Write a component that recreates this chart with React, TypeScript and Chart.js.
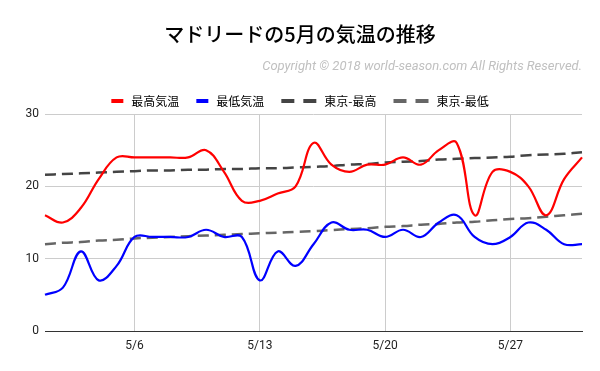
import React, { useEffect, useRef } from "react";
import { Chart, registerables } from "chart.js";

Chart.register(...registerables);

const days = [
  "5/1","5/2","5/3","5/4","5/5","5/6","5/7","5/8","5/9","5/10",
  "5/11","5/12","5/13","5/14","5/15","5/16","5/17","5/18","5/19","5/20",
  "5/21","5/22","5/23","5/24","5/25","5/26","5/27","5/28","5/29","5/30","5/31",
];
const shownTicks = ["5/6", "5/13", "5/20", "5/27"];

const madridMax = [16, 15, 17, 21, 24, 24, 24, 24, 24, 25, 22, 18, 18, 19, 20, 26, 23, 22, 23, 23, 24, 23, 25, 26, 16, 22, 22, 20, 16, 21, 24];
const madridMin = [5, 6, 11, 7, 9, 13, 13, 13, 13, 14, 13, 13, 7, 11, 9, 12, 15, 14, 14, 13, 14, 13, 15, 16, 13, 12, 13, 15, 14, 12, 12];
const tokyoMax = [21.6, 21.7, 21.8, 21.9, 22.0, 22.1, 22.2, 22.2, 22.3, 22.3, 22.4, 22.4, 22.5, 22.5, 22.6, 22.7, 22.8, 23.0, 23.1, 23.3, 23.4, 23.5, 23.7, 23.8, 23.9, 24.0, 24.1, 24.3, 24.4, 24.5, 24.7];
const tokyoMin = [12.0, 12.2, 12.3, 12.5, 12.6, 12.8, 12.9, 13.0, 13.1, 13.2, 13.3, 13.4, 13.5, 13.6, 13.7, 13.8, 13.95, 14.1, 14.2, 14.4, 14.5, 14.7, 14.8, 15.0, 15.1, 15.3, 15.5, 15.6, 15.8, 16.0, 16.2];

const seriesNames = ["最高気温", "最低気温", "東京-最高", "東京-最低"];
const seriesColors = ["#ff0000", "#0000ff", "#444444", "#666666"];

const titleText = "マドリードの5月の気温の推移";
const copyrightText = "Copyright © 2018 world-season.com All Rights Reserved.";

const CJK = "'Noto Sans CJK JP', sans-serif";

const headerPlugin = {
  id: "header",
  afterDraw(chart: any) {
    const ctx = chart.ctx;
    const w = chart.width;
    ctx.save();
    // title
    ctx.fillStyle = "#000";
    ctx.font = `500 20px ${CJK}`;
    ctx.textAlign = "center";
    ctx.textBaseline = "middle";
    ctx.fillText(titleText, w / 2, 34);
    // copyright
    ctx.fillStyle = "#c0c0c0";
    ctx.font = "italic 13px Roboto, sans-serif";
    ctx.textAlign = "right";
    ctx.fillText(copyrightText, chart.chartArea.right, 67);
    // legend
    ctx.font = `12px ${CJK}`;
    ctx.textAlign = "left";
    const ds = chart.data.datasets;
    const items = ds.map((d: any) => {
      const dashed = d.borderDash && d.borderDash.length > 0;
      const sw = dashed ? 35 : 12;
      const tw = ctx.measureText(d.label).width;
      return { d, dashed, sw, tw, width: sw + 8 + tw };
    });
    const gap = 17;
    const total = items.reduce((s: number, it: any) => s + it.width, 0) + gap * (items.length - 1);
    let x = w / 2 - total / 2;
    const cy = 101;
    items.forEach((it: any) => {
      ctx.fillStyle = it.d.borderColor;
      if (it.dashed) {
        ctx.fillRect(x, cy - 2, 13, 4);
        ctx.fillRect(x + 22, cy - 2, 13, 4);
      } else {
        ctx.fillRect(x, cy - 2, 12, 4);
      }
      ctx.fillStyle = "#000";
      ctx.fillText(it.d.label, x + it.sw + 8, cy);
      x += it.width + gap;
    });
    ctx.restore();
  },
};

export default function App() {
  const ref = useRef<HTMLCanvasElement | null>(null);
  useEffect(() => {
    if (!ref.current) return;
    const chart = new Chart(ref.current, {
      type: "line",
      data: {
        labels: days,
        datasets: [
          { label: seriesNames[0], data: madridMax, borderColor: seriesColors[0], backgroundColor: seriesColors[0], borderWidth: 2.2, tension: 0.4, pointRadius: 0, borderDash: [] },
          { label: seriesNames[1], data: madridMin, borderColor: seriesColors[1], backgroundColor: seriesColors[1], borderWidth: 2.2, tension: 0.4, pointRadius: 0, borderDash: [] },
          { label: seriesNames[2], data: tokyoMax, borderColor: seriesColors[2], backgroundColor: seriesColors[2], borderWidth: 2.5, tension: 0.4, pointRadius: 0, borderDash: [11, 6] },
          { label: seriesNames[3], data: tokyoMin, borderColor: seriesColors[3], backgroundColor: seriesColors[3], borderWidth: 2.5, tension: 0.4, pointRadius: 0, borderDash: [11, 6] },
        ],
      },
      options: {
        animation: false,
        responsive: false,
        maintainAspectRatio: false,
        layout: { padding: { top: 114, right: 18, left: 0, bottom: 0 } },
        plugins: {
          legend: { display: false },
          title: { display: false },
          tooltip: { enabled: false },
        },
        scales: {
          x: {
            type: "category",
            offset: false,
            afterFit: (scale: any) => { scale.height = 40; },
            grid: {
              drawTicks: false,
              color: (c: any) => (c.tick && shownTicks.includes(days[c.index]) ? "#cccccc" : "rgba(0,0,0,0)"),
              lineWidth: 1,
            },
            border: { display: true, color: "#333333", width: 1 },
            ticks: {
              autoSkip: false,
              maxRotation: 0,
              padding: 8,
              color: "#222222",
              font: { family: "Roboto, sans-serif", size: 12 },
              callback: (_v: any, i: number) => (shownTicks.includes(days[i]) ? days[i] : ""),
            },
          },
          y: {
            min: 0,
            max: 30,
            afterFit: (scale: any) => { scale.width = 45; },
            grid: { drawTicks: false, color: "#cccccc", lineWidth: 1 },
            border: { display: false },
            ticks: {
              stepSize: 10,
              padding: 6,
              color: "#222222",
              font: { family: "Roboto, sans-serif", size: 12 },
            },
          },
        },
      },
      plugins: [headerPlugin],
    });
    return () => chart.destroy();
  }, []);
  return (
    <div style={{ position: "fixed", left: 0, top: 0, width: 600, height: 371, background: "#fff" }}>
      <canvas ref={ref} width={600} height={371} style={{ width: 600, height: 371, display: "block" }} />
    </div>
  );
}
